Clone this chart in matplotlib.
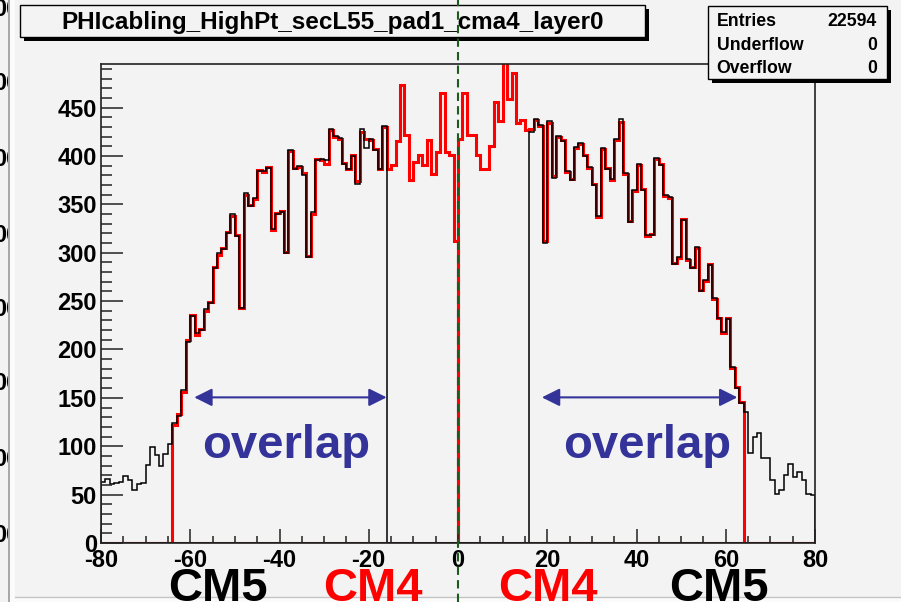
import numpy as np
import matplotlib
matplotlib.use("Agg")
from matplotlib import pyplot as plt
from matplotlib.lines import Line2D
from matplotlib.patches import Rectangle
from matplotlib.ticker import MultipleLocator
from matplotlib.transforms import blended_transform_factory

plt.rcParams["font.family"] = "Liberation Sans"
plt.rcParams["font.weight"] = "bold"
plt.rcParams["axes.unicode_minus"] = False

W, H = 901, 602

title = "PHIcabling_HighPt_secL55_pad1_cma4_layer0"

# hits per strip, one bin per strip
cm5_left_start = -80  # strips -80 .. -17
cm5_left = [
    63, 66, 61, 62, 63, 69, 65, 55, 61, 62, 81, 99, 91, 80, 92, 102,
    124, 131, 158, 208, 235, 217, 220, 242, 248, 284, 300, 304, 320, 340, 317, 243,
    362, 348, 357, 384, 384, 388, 325, 340, 342, 300, 406, 387, 390, 380, 296, 342,
    396, 397, 396, 428, 421, 419, 392, 387, 400, 371, 428, 408, 417, 406, 387, 431,
]
cm4_left_start = -64  # strips -64 .. -1
cm4_left = [
    122, 133, 156, 210, 236, 215, 221, 240, 249, 285, 298, 305, 321, 338, 318, 243,
    360, 349, 356, 385, 383, 389, 323, 341, 343, 301, 405, 388, 389, 382, 297, 340,
    397, 396, 392, 427, 420, 418, 393, 386, 401, 374, 425, 417, 416, 407, 386, 430,
    386, 391, 415, 473, 422, 375, 394, 401, 391, 416, 381, 404, 465, 404, 401, 312,
]
cm4_right_start = 0  # strips 0 .. 63
cm4_right = [
    418, 465, 422, 422, 401, 387, 386, 410, 456, 436, 505, 459, 486, 434, 437, 427,
    428, 437, 431, 312, 434, 379, 420, 416, 383, 376, 408, 412, 401, 388, 371, 337,
    407, 388, 375, 416, 435, 381, 333, 364, 391, 366, 317, 319, 397, 392, 359, 357,
    289, 295, 335, 292, 285, 305, 261, 271, 288, 252, 233, 217, 232, 181, 161, 146,
]
cm5_right_start = 16  # strips 16 .. 79
cm5_right = [
    425, 438, 432, 310, 436, 377, 421, 415, 384, 375, 409, 413, 400, 389, 370, 338,
    408, 387, 376, 417, 438, 382, 332, 365, 392, 365, 318, 318, 398, 391, 360, 358,
    288, 296, 334, 293, 284, 306, 260, 272, 287, 253, 232, 218, 231, 182, 160, 145,
    135, 93, 110, 114, 88, 88, 65, 51, 55, 70, 82, 68, 73, 65, 51, 50,
]

stats_rows = [("Entries", "22594"), ("Underflow", "0"), ("Overflow", "0")]
cm_labels = [("CM5", -53.8, "black"), ("CM4", -19.0, "red"),
             ("CM4", 20.2, "red"), ("CM5", 58.5, "black")]
overlap_spans = [(-59.1, -16.0), (18.8, 62.6)]

edges = np.arange(-80, 81)
bg = "#f3f3f3"
blue = "#333399"


def padded(values, start):
    out = np.zeros(len(edges) - 1)
    i = start - edges[0]
    out[i:i + len(values)] = values
    return out


def px_rect(x0, y0, x1, y1, **kw):
    # rectangle given in pixel coords, origin top-left
    return Rectangle((x0 / W, 1 - y1 / H), (x1 - x0) / W, (y1 - y0) / H,
                     transform=fig.transFigure, **kw)


fig = plt.figure(figsize=(W / 100, H / 100), dpi=100)
fig.patch.set_facecolor(bg)

# border of the neighbouring pad on the left
fig.add_artist(px_rect(9, 0, 15, H, facecolor="#fbfbfb", lw=0, zorder=-1))
fig.add_artist(px_rect(7.5, 0, 9.5, H, facecolor="#a8a8a8", lw=0, zorder=-1))
fig.add_artist(px_rect(15, 597, W, H, facecolor="#fbfbfb", lw=0, zorder=-1))
fig.add_artist(Line2D([15 / W, 1], [1 - 597 / H] * 2, color="#c4c4c4", lw=1,
                      transform=fig.transFigure, zorder=-1))
strip = fig.add_axes([0, 0, 7.5 / W, 1])
strip.axis("off")
for yp in [10, 83, 159, 235, 310, 384, 460, 535]:
    strip.text(19 / 7.5, 1 - yp / H, "00", transform=strip.transAxes,
               ha="right", va="center", fontsize=17, clip_on=True)

ax = fig.add_axes([101 / W, (H - 543) / H, 714 / W, 479 / H])
ax.set_facecolor(bg)

for vals, start in [(cm4_left, cm4_left_start), (cm4_right, cm4_right_start)]:
    ax.stairs(padded(vals, start), edges, baseline=0, color="red", lw=2.2)
for vals, start in [(cm5_left, cm5_left_start), (cm5_right, cm5_right_start)]:
    ax.stairs(padded(vals, start), edges, baseline=0, color="black", lw=1.1)

ax.set_xlim(-80, 80)
ax.set_ylim(0, 495)
ax.xaxis.set_major_locator(MultipleLocator(20))
ax.xaxis.set_minor_locator(MultipleLocator(5))
ax.yaxis.set_major_locator(MultipleLocator(50))
ax.yaxis.set_minor_locator(MultipleLocator(10))
ax.tick_params(which="both", direction="in", width=1.1, color="#222222",
               top=False, right=False, labelsize=17)
ax.tick_params(axis="y", which="major", length=15.8, pad=3)
ax.tick_params(axis="y", which="minor", length=7.9)
ax.tick_params(axis="x", which="major", length=10, pad=4)
ax.tick_params(axis="x", which="minor", length=5)
for sp in ax.spines.values():
    sp.set_linewidth(1.2)
    sp.set_color("#222222")

# overlap regions
for (a, b), xc in zip(overlap_spans, [-38.4, 42.4]):
    ax.annotate("", xy=(a, 150.5), xytext=(b, 150.5),
                arrowprops=dict(arrowstyle="<|-|>,head_length=0.4,head_width=0.2",
                                color=blue, lw=1.5, shrinkA=0, shrinkB=0,
                                mutation_scale=27))
    ax.text(xc, 88, "overlap", ha="center", va="baseline", fontsize=34,
            color=blue)

below = blended_transform_factory(ax.transData, fig.transFigure)
for txt, xc, col in cm_labels:
    ax.text(xc, 1.0 / H, txt, transform=below, ha="center", va="baseline",
            fontsize=34, color=col, clip_on=False)

# title box
fig.add_artist(px_rect(24, 9, 649, 40.7, facecolor="black", lw=0))
fig.add_artist(px_rect(20, 5, 645, 36.7, facecolor=bg, edgecolor="black", lw=1))
fig.text(332.5 / W, 1 - 28.5 / H, title, ha="center", va="baseline", fontsize=17.5)

# stats box
fig.add_artist(px_rect(712, 10, 891, 83, facecolor="black", lw=0))
fig.add_artist(px_rect(708, 6, 887, 79, facecolor=bg, edgecolor="black", lw=1))
for i, (name, val) in enumerate(stats_rows):
    yb = 1 - (26 + 23.5 * i) / H
    fig.text(716.5 / W, yb, name, ha="left", va="baseline", fontsize=12.7)
    fig.text(877 / W, yb, val, ha="right", va="baseline", fontsize=12.7)

# boundary between the two CM4 halves
fig.add_artist(Line2D([0, 0], [0, 1], transform=below, color="#1d5a1d",
                      lw=1.5, dashes=(4, 2.5), zorder=5))

fig.savefig("out.png", dpi=100, facecolor=fig.get_facecolor())
